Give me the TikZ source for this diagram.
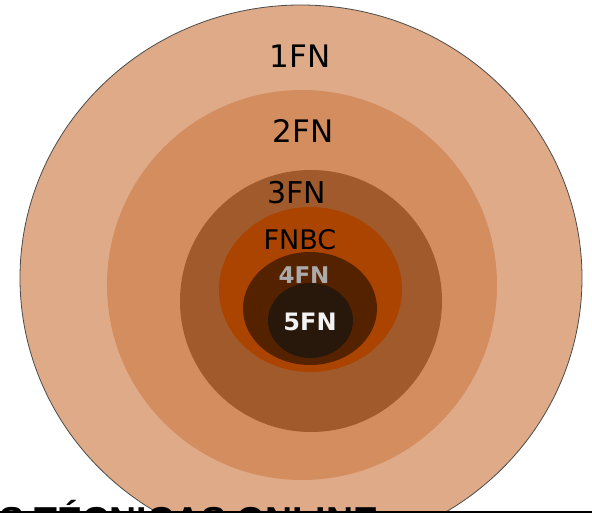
\documentclass[tikz,border=0pt]{standalone}
\usepackage{fontspec}
\setmainfont{DejaVu Sans}
\newfontfamily\bannerfont{Liberation Sans}
\usepackage{tikz}

\definecolor{fnone}{HTML}{DEAA87}
\definecolor{fntwo}{HTML}{D38D5F}
\definecolor{fnthree}{HTML}{A05A2C}
\definecolor{fnbc}{HTML}{AA4400}
\definecolor{fnfour}{HTML}{552200}
\definecolor{fnfive}{HTML}{28170B}

\begin{document}
\begin{tikzpicture}[x=1pt,y=-1pt,every node/.style={inner sep=0pt},
    lbl/.style={font=\fontsize{#1}{#1}\selectfont},
    boldlbl/.style={font=\fontsize{#1}{#1}\selectfont\bfseries}]
	\clip (0,0) rectangle (592,513);
	\fill[white] (0,0) rectangle (592,513);
	% nested layers, outside in
	\filldraw[fill=fnone,draw=black!70,line width=0.8pt] (301,278) ellipse [x radius=281pt, y radius=273pt];
	\fill[fntwo]   (302,285)   ellipse [x radius=195pt, y radius=195pt];
	\fill[fnthree] (311,301)   ellipse [x radius=131pt, y radius=131pt];
	\fill[fnbc]    (310.5,289.5) ellipse [x radius=91.5pt, y radius=82.5pt];
	\fill[fnfour]  (310,308.5) ellipse [x radius=67pt, y radius=56.5pt];
	\fill[fnfive]  (310.5,320.5) ellipse [x radius=42.5pt, y radius=37.5pt];
	% labels
	\node[lbl=31] (one)   at (300,56)  {1FN};
	\node[lbl=31] (two)   at (303,131) {2FN};
	\node[lbl=30] (three) at (297,193) {3FN};
	\node[lbl=27] (bc)    at (300,240) {FNBC};
	\node[boldlbl=23, text=black!33] (four) at (304,275) {4FN};
	\node[boldlbl=24, text=black!5]  (five) at (310,322) {5FN};
	% cut-off banner at the bottom
	\node[anchor=base west, font=\bannerfont\bfseries\fontsize{37.5}{37.5}\selectfont] (banner) at (-1,533) {S TÉCNICAS ONLINE};
	\coordinate (rulel) at (0,512);
	\coordinate (ruler) at (592,512);
	\draw[line width=2pt] (rulel) -- (ruler);
\end{tikzpicture}
\end{document}
